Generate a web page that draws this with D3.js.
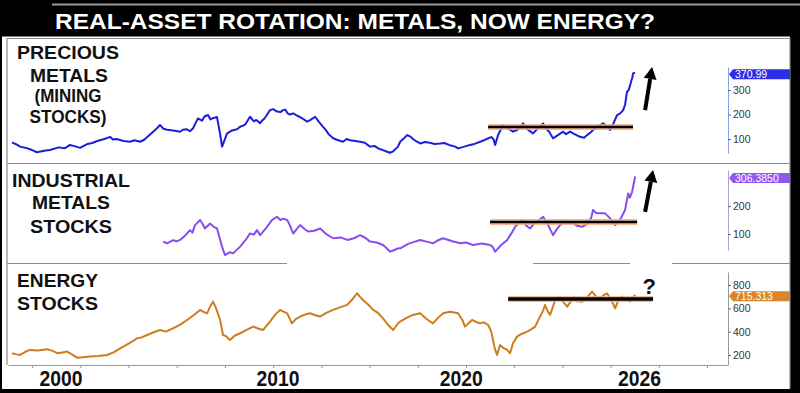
<!DOCTYPE html>
<html>
<head>
<meta charset="utf-8">
<script src="https://cdn.jsdelivr.net/npm/d3@7"></script>
<style>
  html, body { margin: 0; padding: 0; background: #000; }
  svg { display: block; }
</style>
</head>
<body>
<svg id="chart"></svg>
<script>
// ---- data: [decimal year, value] ----
const title = "REAL-ASSET ROTATION: METALS, NOW ENERGY?";

const precious = [
  [2000.17, 86], [2000.35, 78], [2000.50, 69], [2000.80, 62], [2001.00, 55], [2001.20, 46],
  [2001.50, 52], [2001.74, 55], [2002.10, 66], [2002.35, 62], [2002.57, 76], [2002.80, 70],
  [2002.99, 64], [2003.30, 80], [2003.50, 84], [2003.70, 92], [2004.00, 100], [2004.10, 104],
  [2004.23, 109], [2004.35, 98], [2004.50, 100], [2004.65, 96], [2004.80, 92], [2005.06, 89],
  [2005.25, 95], [2005.48, 89], [2005.65, 97], [2005.80, 110], [2006.00, 128], [2006.18, 144],
  [2006.31, 157], [2006.45, 142], [2006.60, 138], [2006.85, 135], [2007.14, 130], [2007.25, 138],
  [2007.40, 140], [2007.55, 132], [2007.68, 144], [2007.78, 165], [2007.88, 184], [2008.05, 175],
  [2008.15, 192], [2008.30, 198], [2008.40, 180], [2008.50, 185], [2008.67, 190], [2008.80, 120],
  [2008.88, 69], [2009.09, 123], [2009.30, 135], [2009.50, 140], [2009.63, 150], [2009.75, 155],
  [2009.85, 160], [2010.04, 191], [2010.20, 172], [2010.30, 178], [2010.46, 165], [2010.55, 176],
  [2010.65, 185], [2010.75, 200], [2010.87, 218], [2011.00, 222], [2011.16, 212], [2011.30, 210],
  [2011.41, 218], [2011.50, 220], [2011.60, 205], [2011.70, 200], [2011.83, 205], [2012.00, 195],
  [2012.20, 185], [2012.41, 171], [2012.55, 178], [2012.74, 191], [2012.90, 170], [2013.07, 150],
  [2013.20, 135], [2013.30, 120], [2013.49, 103], [2013.70, 95], [2013.90, 89], [2014.05, 100],
  [2014.20, 95], [2014.40, 92], [2014.61, 89], [2014.80, 85], [2015.02, 69], [2015.20, 72],
  [2015.40, 60], [2015.55, 55], [2015.73, 48], [2015.85, 44], [2015.98, 50], [2016.18, 69],
  [2016.27, 89], [2016.45, 105], [2016.56, 116], [2016.70, 110], [2016.80, 100], [2016.95, 90],
  [2017.10, 82], [2017.30, 88], [2017.50, 85], [2017.70, 80], [2017.93, 82], [2018.10, 84],
  [2018.30, 76], [2018.55, 69], [2018.67, 62], [2018.90, 68], [2019.17, 76], [2019.35, 80],
  [2019.59, 89], [2019.75, 95], [2019.92, 103], [2020.05, 108], [2020.15, 98], [2020.21, 76],
  [2020.33, 116], [2020.45, 140], [2020.54, 157], [2020.65, 150], [2020.80, 140], [2020.95, 130],
  [2021.12, 137], [2021.25, 150], [2021.37, 164], [2021.55, 140], [2021.78, 123], [2021.95, 140],
  [2022.05, 150], [2022.20, 164], [2022.30, 145], [2022.45, 130], [2022.52, 118], [2022.61, 103],
  [2022.80, 115], [2023.03, 130], [2023.15, 120], [2023.32, 130], [2023.50, 120], [2023.73, 109],
  [2023.90, 105], [2024.02, 116], [2024.15, 125], [2024.27, 137], [2024.45, 150], [2024.69, 164],
  [2024.85, 150], [2024.98, 137], [2025.10, 160], [2025.27, 198], [2025.40, 205], [2025.52, 218],
  [2025.60, 240], [2025.68, 293], [2025.75, 300], [2025.81, 320], [2025.85, 335], [2025.90, 350],
  [2025.93, 368], [2026.02, 371]
];

const industrial = [
  [2006.43, 73], [2006.60, 67], [2006.85, 78], [2007.00, 74], [2007.14, 79], [2007.35, 95],
  [2007.55, 114], [2007.65, 105], [2007.76, 132], [2007.97, 150], [2008.08, 135], [2008.17, 120],
  [2008.38, 138], [2008.55, 125], [2008.67, 120], [2008.88, 55], [2009.00, 25], [2009.20, 35],
  [2009.34, 31], [2009.63, 55], [2009.85, 78], [2010.04, 102], [2010.20, 98], [2010.33, 114],
  [2010.46, 96], [2010.75, 126], [2010.95, 150], [2011.16, 162], [2011.30, 150], [2011.41, 155],
  [2011.58, 150], [2011.70, 130], [2011.83, 102], [2012.00, 120], [2012.12, 132], [2012.30, 118],
  [2012.45, 109], [2012.70, 112], [2012.95, 120], [2013.20, 100], [2013.49, 85], [2013.80, 88],
  [2014.07, 79], [2014.35, 85], [2014.61, 96], [2014.85, 85], [2015.02, 73], [2015.30, 70],
  [2015.56, 61], [2015.70, 50], [2015.85, 37], [2016.00, 42], [2016.18, 49], [2016.27, 49],
  [2016.60, 65], [2016.85, 72], [2017.10, 79], [2017.40, 72], [2017.63, 67], [2017.85, 78],
  [2018.05, 85], [2018.40, 75], [2018.76, 67], [2019.00, 70], [2019.29, 61], [2019.65, 66],
  [2020.00, 61], [2020.10, 55], [2020.21, 37], [2020.45, 60], [2020.71, 79], [2020.90, 105],
  [2021.04, 126], [2021.20, 140], [2021.33, 150], [2021.50, 130], [2021.66, 120], [2021.80, 135],
  [2021.95, 144], [2022.20, 162], [2022.30, 148], [2022.41, 132], [2022.61, 96], [2022.75, 115],
  [2022.90, 132], [2023.05, 140], [2023.20, 144], [2023.44, 138], [2023.60, 130], [2023.82, 126],
  [2024.07, 138], [2024.20, 160], [2024.27, 186], [2024.40, 175], [2024.56, 174], [2024.77, 174],
  [2024.98, 156], [2025.10, 140], [2025.19, 132], [2025.39, 150], [2025.60, 186], [2025.73, 245],
  [2025.80, 230], [2025.89, 251], [2026.02, 306]
];

const energy = [
  [2000.17, 214], [2000.35, 205], [2000.50, 200], [2000.70, 225], [2000.91, 243], [2001.25, 238],
  [2001.62, 249], [2001.85, 235], [2002.07, 214], [2002.25, 222], [2002.45, 229], [2002.65, 205],
  [2002.86, 177], [2003.10, 180], [2003.40, 186], [2003.75, 192], [2004.11, 200], [2004.40, 225],
  [2004.65, 257], [2004.95, 290], [2005.20, 320], [2005.35, 343], [2005.55, 350], [2005.77, 371],
  [2006.05, 395], [2006.31, 414], [2006.55, 400], [2006.85, 429], [2007.15, 460], [2007.43, 500],
  [2007.70, 540], [2007.97, 586], [2008.10, 570], [2008.26, 557], [2008.40, 620], [2008.51, 657],
  [2008.65, 590], [2008.80, 500], [2008.92, 371], [2009.05, 360], [2009.21, 329], [2009.40, 365],
  [2009.63, 386], [2009.90, 415], [2010.17, 443], [2010.40, 425], [2010.58, 414], [2010.87, 486],
  [2011.10, 550], [2011.29, 586], [2011.45, 570], [2011.58, 557], [2011.78, 471], [2011.95, 510],
  [2012.12, 529], [2012.30, 545], [2012.53, 557], [2012.75, 540], [2012.95, 529], [2013.20, 560],
  [2013.49, 586], [2013.80, 610], [2014.07, 629], [2014.30, 680], [2014.48, 729], [2014.60, 700],
  [2014.73, 671], [2014.95, 630], [2015.15, 586], [2015.35, 560], [2015.56, 514], [2015.80, 450],
  [2015.98, 414], [2016.18, 471], [2016.27, 486], [2016.55, 520], [2016.80, 543], [2017.10, 557],
  [2017.35, 510], [2017.63, 471], [2017.85, 520], [2018.05, 557], [2018.34, 571], [2018.67, 557],
  [2018.85, 500], [2018.96, 443], [2019.25, 500], [2019.40, 485], [2019.59, 471], [2019.75, 480],
  [2019.92, 457], [2020.05, 400], [2020.12, 329], [2020.20, 250], [2020.29, 200], [2020.41, 286],
  [2020.55, 260], [2020.71, 243], [2020.83, 214], [2020.95, 300], [2021.12, 357], [2021.30, 380],
  [2021.54, 400], [2021.70, 420], [2021.87, 443], [2022.07, 529], [2022.20, 580], [2022.28, 629],
  [2022.40, 570], [2022.49, 543], [2022.70, 671], [2022.90, 700], [2023.05, 650], [2023.20, 614],
  [2023.44, 686], [2023.60, 660], [2023.82, 657], [2024.05, 700], [2024.23, 743], [2024.40, 700],
  [2024.56, 686], [2024.70, 710], [2024.85, 729], [2025.05, 660], [2025.19, 600], [2025.30, 660],
  [2025.48, 700], [2025.65, 670], [2025.81, 657], [2025.92, 690], [2026.02, 715]
];

const lastLabels = ["370.99", "306.3850", "715.313"];
const resistanceLevel = [149, 143, 680];
const resistanceSpan = [[2019.92, 2025.93], [2020.0, 2026.1], [2020.75, 2026.76]];
const rightTicks = [[100, 200, 300], [100, 200], [200, 400, 600, 800]];
const yearTicks = [2001, 2003, 2005, 2007, 2009, 2011, 2013, 2015, 2017, 2019, 2021, 2023, 2025, 2027, 2029];
const yearLabels = ["2000", "2010", "2020", "2026"];
const yearLabelAt = [2002.2, 2011.2, 2018.8, 2026.2];
// arrows: [from, to] in [year, value]
const arrowUp = [
  [[2026.43, 218], [2026.72, 394]],
  [[2026.43, 179], [2026.76, 329]]
];
const questionAt = [2026.6, 720];

// ---- drawing ----
const width = 800, height = 393;
const svg = d3.select("#chart").attr("width", width).attr("height", height);

const x = d3.scaleLinear().domain([2000, 2029.87]).range([8, 728]);

const panels = [
  { data: precious, y: d3.scaleLinear().domain([43, 394]).range([153, 67]),
    line: "#1c1fd8", box: "#2a2ee6", axis: "#8e9fea",
    labels: [["PRECIOUS", 68, 59, 102], ["METALS", 69, 81.5, 78], ["(MINING", 68, 102, 67], ["STOCKS)", 68, 123, 77]] },
  { data: industrial, y: d3.scaleLinear().domain([43, 329]).range([250, 170]),
    line: "#8a4cf0", box: "#9457f0", axis: "#a9a3d6",
    labels: [["INDUSTRIAL", 71, 187, 118], ["METALS", 71, 209, 78], ["STOCKS", 71, 232.5, 82]] },
  { data: energy, y: d3.scaleLinear().domain([114, 911]).range([365, 272]),
    line: "#cd7d1f", box: "#d7862a", axis: "#9a9a9a",
    labels: [["ENERGY", 57.5, 286.5, 81], ["STOCKS", 57.5, 310, 81]] }
];

// frame
svg.append("rect").attr("width", width).attr("height", height).attr("fill", "#000");
svg.append("line").attr("x1", 52).attr("x2", 800).attr("y1", 4.5).attr("y2", 4.5)
  .attr("stroke", "#9a9a9a").attr("stroke-width", 2);
svg.append("rect").attr("x", 2).attr("y", 36.5).attr("width", 788).attr("height", 352.5).attr("fill", "#fff");

svg.append("text")
  .attr("x", 55).attr("y", 29)
  .attr("fill", "#fff")
  .attr("font-family", "'Liberation Sans Narrow', 'Liberation Sans', Arial, sans-serif")
  .attr("font-weight", "bold").attr("font-size", 22)
  .attr("textLength", 600).attr("lengthAdjust", "spacingAndGlyphs")
  .text(title);

const grey = "#8c8c8c";
const frame = svg.append("g").attr("stroke", grey).attr("stroke-width", 1.2).attr("fill", "none");
frame.append("path").attr("d", "M7,38.5H790V388");
frame.append("path").attr("d", "M7,38.5V365");
frame.append("path").attr("d", "M7,163.5H790");
frame.append("path").attr("d", "M7,263.5H287M533,263.5H630M672,263.5H790");

// bottom time axis
svg.append("g")
  .attr("transform", "translate(0,365)")
  .call(d3.axisBottom(x).tickValues(yearTicks).tickSize(3).tickSizeOuter(0).tickFormat(""))
  .call(g => g.selectAll("path, line").attr("stroke", "#999"));

svg.append("g").selectAll("text")
  .data(yearLabels)
  .join("text")
    .attr("x", (d, i) => x(yearLabelAt[i]))
    .attr("y", 386)
    .attr("text-anchor", "middle")
    .attr("font-family", "'Liberation Sans Narrow', 'Liberation Sans', Arial, sans-serif")
    .attr("font-weight", "bold").attr("font-size", 22)
    .attr("fill", "#111")
    .attr("textLength", 43).attr("lengthAdjust", "spacingAndGlyphs")
    .text(d => d);

panels.forEach((p, i) => {
  const y = p.y;
  const g = svg.append("g");

  // right axis
  g.append("g")
    .attr("transform", "translate(728,0)")
    .call(d3.axisRight(y).tickValues(rightTicks[i]).tickSize(3).tickSizeOuter(0).tickPadding(2))
    .call(a => a.select(".domain").attr("stroke", p.axis))
    .call(a => a.selectAll(".tick line").attr("stroke", "#666"))
    .call(a => a.selectAll(".tick text")
      .attr("fill", "#333").attr("font-size", 10.5)
      .attr("font-family", "'Liberation Sans', Arial, sans-serif"));

  // series line
  g.append("path")
    .datum(p.data)
    .attr("fill", "none")
    .attr("stroke", p.line)
    .attr("stroke-width", 2)
    .attr("stroke-linejoin", "round")
    .attr("d", d3.line().x(d => x(d[0])).y(d => y(d[1])));

  // resistance line
  const [r0, r1] = resistanceSpan[i];
  g.append("line")
    .attr("x1", x(r0)).attr("x2", x(r1))
    .attr("y1", y(resistanceLevel[i])).attr("y2", y(resistanceLevel[i]))
    .attr("stroke", "#f4ad82").attr("stroke-width", 6).attr("opacity", 0.85);
  g.append("line")
    .attr("x1", x(r0)).attr("x2", x(r1))
    .attr("y1", y(resistanceLevel[i])).attr("y2", y(resistanceLevel[i]))
    .attr("stroke", "#000").attr("stroke-width", i === 2 ? 3.5 : 2.5);

  // last value tag
  const last = p.data[p.data.length - 1];
  const yc = y(last[1]) + 1.5;
  g.append("path")
    .attr("d", `M729,${yc}L733,${yc - 5}H790V${yc + 5}H733Z`)
    .attr("fill", p.box);
  g.append("text")
    .attr("x", 735).attr("y", yc).attr("dy", "0.36em")
    .attr("fill", "#fff").attr("font-size", 10.5)
    .attr("font-family", "'Liberation Sans', Arial, sans-serif")
    .text(lastLabels[i]);

  // panel label
  g.append("g").selectAll("text")
    .data(p.labels)
    .join("text")
      .attr("x", d => d[1]).attr("y", d => d[2])
      .attr("text-anchor", "middle")
      .attr("font-family", "'Liberation Sans', Arial, sans-serif")
      .attr("font-weight", "bold").attr("font-size", 18)
      .attr("fill", "#111")
      .attr("textLength", d => d[3]).attr("lengthAdjust", "spacingAndGlyphs")
      .text(d => d[0]);
});

// up arrows
arrowUp.forEach((a, i) => {
  const y = panels[i].y;
  const x0 = x(a[0][0]), y0 = y(a[0][1]), x1 = x(a[1][0]), y1 = y(a[1][1]);
  const ang = Math.atan2(y1 - y0, x1 - x0);
  const head = 12, half = 6.5;
  const bx = x1 - head * Math.cos(ang), by = y1 - head * Math.sin(ang);
  svg.append("line")
    .attr("x1", x0).attr("y1", y0).attr("x2", bx).attr("y2", by)
    .attr("stroke", "#000").attr("stroke-width", 4);
  const px = -Math.sin(ang), py = Math.cos(ang);
  svg.append("path")
    .attr("d", `M${x1},${y1}L${bx + px * half},${by + py * half}L${bx - px * half},${by - py * half}Z`)
    .attr("fill", "#000");
});

// question mark on energy panel
svg.append("text")
  .attr("x", x(questionAt[0])).attr("y", panels[2].y(questionAt[1]))
  .attr("text-anchor", "middle")
  .attr("font-family", "'Liberation Sans', Arial, sans-serif")
  .attr("font-weight", "bold").attr("font-size", 22)
  .attr("fill", "#111")
  .text("?");

// right black strip and bottom band
svg.append("rect").attr("x", 791).attr("y", 36).attr("width", 9).attr("height", height - 36).attr("fill", "#000");
svg.append("rect").attr("x", 0).attr("y", 389).attr("width", width).attr("height", 4).attr("fill", "#000");
</script>
</body>
</html>
